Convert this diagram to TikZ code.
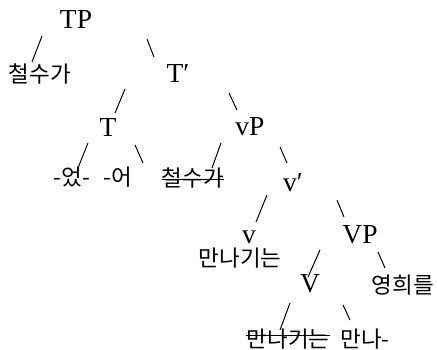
\documentclass[tikz,border=0pt]{standalone}
\usepackage{fontspec}
\setmainfont{Liberation Serif}
\newfontfamily\kr{Noto Sans CJK KR}
\begin{document}
\begin{tikzpicture}[x=1pt,y=-1pt,
  lat/.style={font=\fontsize{27.5}{30}\selectfont, inner sep=0pt},
  kor/.style={font=\kr\fontsize{22.5}{24}\selectfont, inner sep=0pt},
  br/.style={line width=1pt},
  strike/.style={line width=1pt}]
\useasboundingbox (0,0) rectangle (437,349);
% nodes
\node[lat] (TP) at (76,19) {TP};
\node[kor] (cs1) at (40,74) {철수가};
\node[lat] (Tbar) at (178,73) {T′};
\node[lat] (T) at (108,127) {T};
\node[lat] (vP) at (250,127) {vP};
\node[kor] (eoss) at (72,177) {-었-};
\node[kor] (eo) at (118,177) {-어};
\node[kor] (cs2) at (193,178) {철수가};
\node[lat] (vbar) at (293,183) {v′};
\node[lat] (v) at (249,237) {v};
\node[kor] (mk1) at (240,258) {만나기는};
\node[lat] (VP) at (360,235) {VP};
\node[lat] (V) at (310,284) {V};
\node[kor] (yh) at (403,285) {영희를};
\node[kor] (mk2) at (288,339) {만나기는};
\node[kor] (mn) at (365,339) {만나-};
% strike-throughs
\draw[strike] ([shift={(0,1)}]cs2.west) -- ([shift={(0,1)}]cs2.east);
\draw[strike] ([shift={(0,-4)}]mk2.west) -- ([shift={(0,-4)}]mk2.east);
% branches
\draw[br] ([shift={(-34,17)}]TP.center) -- ([shift={(-8,-12)}]cs1.center);
\draw[br] ([shift={(71,20)}]TP.center) -- ([shift={(-24,-16)}]Tbar.center);
\draw[br] ([shift={(-53,16)}]Tbar.center) -- ([shift={(7,-14)}]T.center);
\draw[br] ([shift={(51,20)}]Tbar.center) -- ([shift={(-13,-17)}]vP.center);
\draw[br] ([shift={(-20,16)}]T.center) -- ([shift={(6,-9)}]eoss.center);
\draw[br] ([shift={(27,18)}]T.center) -- ([shift={(25,-14)}]eo.center);
\draw[br] ([shift={(-29,16)}]vP.center) -- ([shift={(19,-10)}]cs2.center);
\draw[br] ([shift={(30,20)}]vP.center) -- ([shift={(-6,-20)}]vbar.center);
\draw[br] ([shift={(-26,12)}]vbar.center) -- ([shift={(7,-15)}]v.center);
\draw[br] ([shift={(44,17)}]vbar.center) -- ([shift={(-16,-18)}]VP.center);
\draw[br] ([shift={(-40,15)}]VP.center) -- ([shift={(-2,-7)}]V.center);
\draw[br] ([shift={(18,17)}]VP.center) -- ([shift={(-18,-17)}]yh.center);
\draw[br] ([shift={(-20,19)}]V.center) -- ([shift={(-8,-9)}]mk2.center);
\draw[br] ([shift={(33,21)}]V.center) -- ([shift={(-15,-19)}]mn.center);
\end{tikzpicture}
\end{document}
